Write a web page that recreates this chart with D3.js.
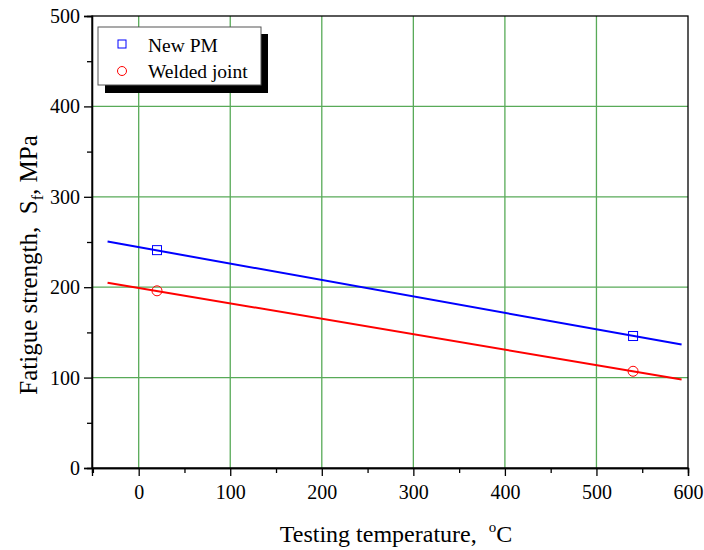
<!DOCTYPE html>
<html>
<head>
<meta charset="utf-8">
<script src="https://cdn.jsdelivr.net/npm/d3@7"></script>
<style>
  body { margin: 0; background: #fff; }
  svg text { font-family: 'Liberation Serif', 'Times New Roman', serif !important; fill: #000; white-space: pre; }
</style>
</head>
<body>
<svg id="chart" width="704" height="550"></svg>
<script>
// measured points
const temps = [20, 540];
const newPM = [241, 146];
const welded = [196, 107];

// fitted lines
const fitTemps = [-34, 593];
const newPMFit = [250.5, 136.5];
const weldedFit = [205, 98];

const xTicks = [0, 100, 200, 300, 400, 500, 600];
const yTicks = [0, 100, 200, 300, 400, 500];

const svg = d3.select('#chart');
const m = { left: 92, right: 16, top: 16, bottom: 82 };
const W = 704, H = 550;

const x = d3.scaleLinear().domain([-51, 600]).range([m.left, W - m.right]);
const y = d3.scaleLinear().domain([0, 500]).range([H - m.bottom, m.top]);

// grid
const grid = svg.append('g').attr('stroke', '#3c9c3c').attr('stroke-width', 1.3).attr('opacity', 0.85);
xTicks.slice(0, -1).forEach(t => {
    grid.append('line').attr('x1', x(t)).attr('x2', x(t))
        .attr('y1', y(0)).attr('y2', y(500));
});
yTicks.slice(1, -1).forEach(t => {
    grid.append('line').attr('x1', x.range()[0]).attr('x2', x.range()[1])
        .attr('y1', y(t)).attr('y2', y(t));
});

// frame
svg.append('rect')
    .attr('x', x.range()[0]).attr('y', y(500))
    .attr('width', x.range()[1] - x.range()[0]).attr('height', y(0) - y(500))
    .attr('fill', 'none').attr('stroke', '#000').attr('stroke-width', 1.3);

// axes
svg.append('g').attr('transform', `translate(0,${y(0)})`)
    .call(d3.axisBottom(x).tickValues(xTicks).tickSize(8).tickPadding(9));
svg.append('g').attr('transform', `translate(0,${y(0)})`)
    .call(d3.axisBottom(x).tickValues(d3.range(-50, 600, 100)).tickSize(5).tickFormat(''));
svg.append('g').attr('transform', `translate(${x.range()[0]},0)`)
    .call(d3.axisLeft(y).tickValues(yTicks).tickSize(8).tickPadding(4));
svg.append('g').attr('transform', `translate(${x.range()[0]},0)`)
    .call(d3.axisLeft(y).tickValues(d3.range(50, 500, 100)).tickSize(5).tickFormat(''));

svg.selectAll('.domain').attr('stroke', '#000').attr('stroke-width', 1.3);
svg.selectAll('.tick line').attr('stroke', '#000').attr('stroke-width', 1.3);
svg.selectAll('.tick text').style('font-size', '20px').attr('fill', '#000');

// axis titles
const xt = svg.append('text').attr('x', 396).attr('y', 542)
    .attr('text-anchor', 'middle').style('font-size', '24px');
xt.append('tspan').text('Testing temperature,  ');
xt.append('tspan').text('o').attr('dy', -10).style('font-size', '15px');
xt.append('tspan').text('C').attr('dy', 10);

const yt = svg.append('text')
    .attr('transform', `translate(37,${265}) rotate(-90)`)
    .attr('text-anchor', 'middle').style('font-size', '25px');
yt.append('tspan').text('Fatigue strength,  S');
yt.append('tspan').text('f').attr('dy', 6).style('font-size', '16px');
yt.append('tspan').text(', MPa').attr('dy', -6);

// fit lines
const line = d3.line().x(d => x(d[0])).y(d => y(d[1]));
svg.append('path').datum(fitTemps.map((t, i) => [t, newPMFit[i]]))
    .attr('d', line).attr('stroke', '#0000ff').attr('stroke-width', 2).attr('fill', 'none');
svg.append('path').datum(fitTemps.map((t, i) => [t, weldedFit[i]]))
    .attr('d', line).attr('stroke', '#ff0000').attr('stroke-width', 2).attr('fill', 'none');

// markers
svg.selectAll('rect.pm').data(temps).enter().append('rect')
    .attr('x', (d) => x(d) - 4.5).attr('y', (d, i) => y(newPM[i]) - 4.5)
    .attr('width', 9).attr('height', 9)
    .attr('fill', 'none').attr('stroke', '#0000ff').attr('stroke-width', 1);
svg.selectAll('circle.wj').data(temps).enter().append('circle')
    .attr('cx', d => x(d)).attr('cy', (d, i) => y(welded[i])).attr('r', 5)
    .attr('fill', 'none').attr('stroke', '#ff0000').attr('stroke-width', 1);

// legend
const lg = svg.append('g');
lg.append('rect').attr('x', 105).attr('y', 34).attr('width', 163).attr('height', 59).attr('fill', '#000');
lg.append('rect').attr('x', 98).attr('y', 27).attr('width', 163).attr('height', 58)
    .attr('fill', '#fff').attr('stroke', '#555').attr('stroke-width', 1);
lg.append('rect').attr('x', 118).attr('y', 40).attr('width', 8).attr('height', 8)
    .attr('fill', 'none').attr('stroke', '#0000ff');
lg.append('circle').attr('cx', 122).attr('cy', 71).attr('r', 4.5)
    .attr('fill', 'none').attr('stroke', '#ff0000');
lg.append('text').attr('x', 148).attr('y', 52).style('font-size', '19.5px').text('New PM');
lg.append('text').attr('x', 148).attr('y', 78).style('font-size', '19.5px').text('Welded joint');
</script>
</body>
</html>
